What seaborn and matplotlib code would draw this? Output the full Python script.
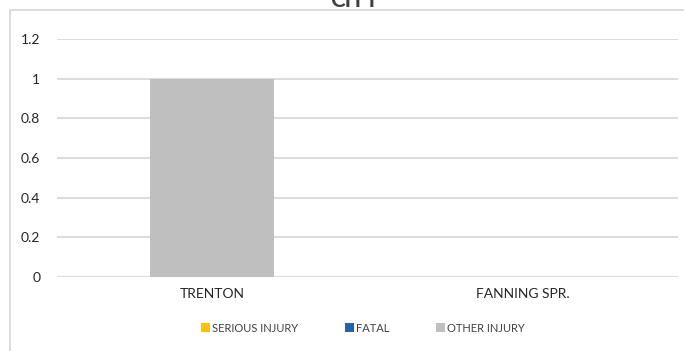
import matplotlib
matplotlib.use("Agg")
import matplotlib.pyplot as plt
from matplotlib.patches import Patch, Rectangle
import numpy as np
import pandas as pd
import seaborn as sns

cities = ["TRENTON", "FANNING SPR."]
serious_injury = [0, 0]
fatal = [0, 0]
other_injury = [1, 0]
series_names = ["SERIOUS INJURY", "FATAL", "OTHER INJURY"]
series_colors = ["#FFC000", "#1F63AA", "#BFBFBF"]
y_ticks = [0, 0.2, 0.4, 0.6, 0.8, 1, 1.2]
y_tick_labels = ["0", "0.2", "0.4", "0.6", "0.8", "1", "1.2"]

sns.set_theme(style="white")
plt.rcParams["font.family"] = ["Lato", "DejaVu Sans"]

W, H = 684, 351
fig = plt.figure(figsize=(W / 100, H / 100), dpi=100)
ax = fig.add_axes([57 / W, 1 - 277 / H, (678 - 57) / W, (277 - 39) / H])

df = pd.DataFrame({
    "city": cities,
    "serious": serious_injury,
    "fatal": fatal,
    "other": other_injury,
})
# stacked columns: draw cumulative totals back to front
df["lvl1"] = df["serious"]
df["lvl2"] = df["serious"] + df["fatal"]
df["lvl3"] = df["serious"] + df["fatal"] + df["other"]

for col, color in [("lvl3", series_colors[2]), ("lvl2", series_colors[1]), ("lvl1", series_colors[0])]:
    sns.barplot(data=df, x="city", y=col, color=color, width=0.4,
                linewidth=0, ax=ax, order=cities)

ax.set_ylim(0, 1.2)
ax.set_yticks(y_ticks)
ax.set_yticklabels(y_tick_labels)
ax.set_xlabel("")
ax.set_ylabel("")
ax.yaxis.grid(True, color="#D9D9D9", linewidth=1.3)
ax.set_axisbelow(True)
for s in ax.spines.values():
    s.set_visible(False)
ax.tick_params(axis="y", length=0, pad=12, labelsize=10, labelcolor="#262626")
ax.tick_params(axis="x", length=0, pad=8, labelsize=10, labelcolor="#262626")
ax.axhline(0, color="#D9D9D9", linewidth=1.3, zorder=0.5)

# chart area border (right and bottom edges run past the canvas)
top = 1 - 10.5 / H
fig.patches.append(Rectangle((10 / W, -0.2), 1.2, top + 0.2,
                             transform=fig.transFigure, fill=False,
                             edgecolor="#D9D9D9", linewidth=1.3))

fig.text(355 / W, 1 - 7 / H, "CITY", ha="center", va="baseline",
         fontsize=16, fontweight="bold", color="#404040")

handles = [Patch(facecolor=c, edgecolor="none", label=n)
           for n, c in zip(series_names, series_colors)]
fig.legend(handles=handles, loc="center", bbox_to_anchor=(363 / W, 1 - 328 / H),
           ncol=3, frameon=False, fontsize=8, handlelength=0.8, handleheight=0.8,
           handletextpad=0.2, columnspacing=4.2, labelcolor="#404040")

fig.savefig("out.png", dpi=100)
